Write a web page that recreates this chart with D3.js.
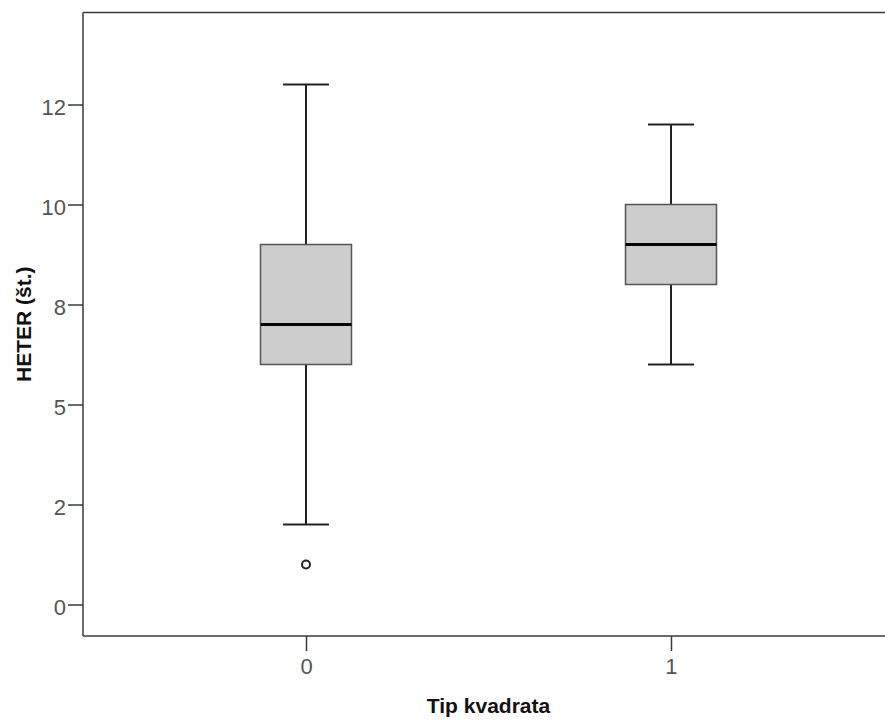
<!DOCTYPE html>
<html>
<head>
<meta charset="utf-8">
<script src="https://cdn.jsdelivr.net/npm/d3@7"></script>
<style>
  body { margin: 0; background: #fff; }
  svg { display: block; font-family: Arial, "Liberation Sans", sans-serif; }
</style>
</head>
<body>
<svg id="chart" width="885" height="720"></svg>
<script>
// Groups on the horizontal axis
const categories = ["0", "1"];
// Box-plot statistics per group
const whiskerLow  = [2.0, 6.0];
const q1          = [6.0, 8.0];
const median      = [7.0, 9.0];
const q3          = [9.0, 10.0];
const whiskerHigh = [13.0, 12.0];
// Outlying observations: [group, value]
const outliers = [["0", 1.0]];
// Vertical ticks and their printed labels
const yTicks = [0, 2.5, 5, 7.5, 10, 12.5];
const yTickLabels = ["0", "2", "5", "8", "10", "12"];

const svg = d3.select("#chart");
const plotLeft = 83, plotRight = 894, plotTop = 12.5, plotBottom = 636;

const x = d3.scalePoint().domain(categories).range([plotLeft, plotRight]).padding(0.611);
const y = d3.scaleLinear().domain([-0.7875, 14.8]).range([plotBottom, plotTop]);

const boxW = 91, capW = 46;
const axisColor = "#3a3a3a";
const tickFont = 22;
const titleFont = 21;

// plot frame (top edge; left and bottom drawn with the axes)
svg.append("line").attr("x1", plotLeft).attr("x2", plotRight).attr("y1", plotTop).attr("y2", plotTop)
  .attr("stroke", axisColor).attr("stroke-width", 1.5);

// y axis
const yAxis = svg.append("g").attr("transform", `translate(${plotLeft},0)`)
  .call(d3.axisLeft(y).tickValues(yTicks).tickSize(15).tickPadding(2)
    .tickFormat((d, i) => yTickLabels[i]));
yAxis.select(".domain").attr("stroke", axisColor).attr("stroke-width", 1.5)
  .attr("d", `M0,${plotTop}V${plotBottom}`);
yAxis.selectAll(".tick line").attr("stroke", axisColor).attr("stroke-width", 1.5);
yAxis.selectAll(".tick text").attr("font-size", tickFont).attr("fill", "#555")
  .attr("dy", "0.45em")
  .attr("font-family", "Arial, 'Liberation Sans', sans-serif");

// x axis
const xAxis = svg.append("g").attr("transform", `translate(0,${plotBottom})`)
  .call(d3.axisBottom(x).tickSize(15).tickPadding(7));
xAxis.select(".domain").attr("stroke", axisColor).attr("stroke-width", 1.5)
  .attr("d", `M${plotLeft},0H${plotRight}`);
xAxis.selectAll(".tick line").attr("stroke", axisColor).attr("stroke-width", 1.5);
xAxis.selectAll(".tick text").attr("font-size", tickFont).attr("fill", "#555")
  .attr("font-family", "Arial, 'Liberation Sans', sans-serif");

// boxes
const groups = categories.map((c, i) => ({
  c, lo: whiskerLow[i], q1: q1[i], med: median[i], q3: q3[i], hi: whiskerHigh[i]
}));

const g = svg.append("g");
groups.forEach(d => {
  const cx = x(d.c);
  // whiskers
  g.append("line").attr("x1", cx).attr("x2", cx).attr("y1", y(d.hi)).attr("y2", y(d.q3))
    .attr("stroke", "#222").attr("stroke-width", 2);
  g.append("line").attr("x1", cx).attr("x2", cx).attr("y1", y(d.q1)).attr("y2", y(d.lo))
    .attr("stroke", "#222").attr("stroke-width", 2);
  // caps
  [d.hi, d.lo].forEach(v => {
    g.append("line").attr("x1", cx - capW / 2).attr("x2", cx + capW / 2)
      .attr("y1", y(v)).attr("y2", y(v)).attr("stroke", "#222").attr("stroke-width", 2);
  });
  // box
  g.append("rect").attr("x", cx - boxW / 2).attr("width", boxW)
    .attr("y", y(d.q3)).attr("height", y(d.q1) - y(d.q3))
    .attr("fill", "#cccccc").attr("stroke", "#555").attr("stroke-width", 1.5);
  // median
  g.append("line").attr("x1", cx - boxW / 2).attr("x2", cx + boxW / 2)
    .attr("y1", y(d.med)).attr("y2", y(d.med)).attr("stroke", "#000").attr("stroke-width", 3);
});

// outliers
g.selectAll("circle.out").data(outliers).join("circle").attr("class", "out")
  .attr("cx", d => x(d[0])).attr("cy", d => y(d[1])).attr("r", 4)
  .attr("fill", "#fff").attr("stroke", "#222").attr("stroke-width", 2);

// axis titles
svg.append("text").attr("x", (plotLeft + plotRight) / 2).attr("y", 713)
  .attr("text-anchor", "middle").attr("font-size", titleFont).attr("font-weight", "bold")
  .attr("fill", "#111").text("Tip kvadrata");
svg.append("text").attr("transform", `translate(31,${(plotTop + plotBottom) / 2}) rotate(-90)`)
  .attr("text-anchor", "middle").attr("font-size", titleFont).attr("font-weight", "bold")
  .attr("fill", "#111").text("HETER (št.)");
</script>
</body>
</html>
